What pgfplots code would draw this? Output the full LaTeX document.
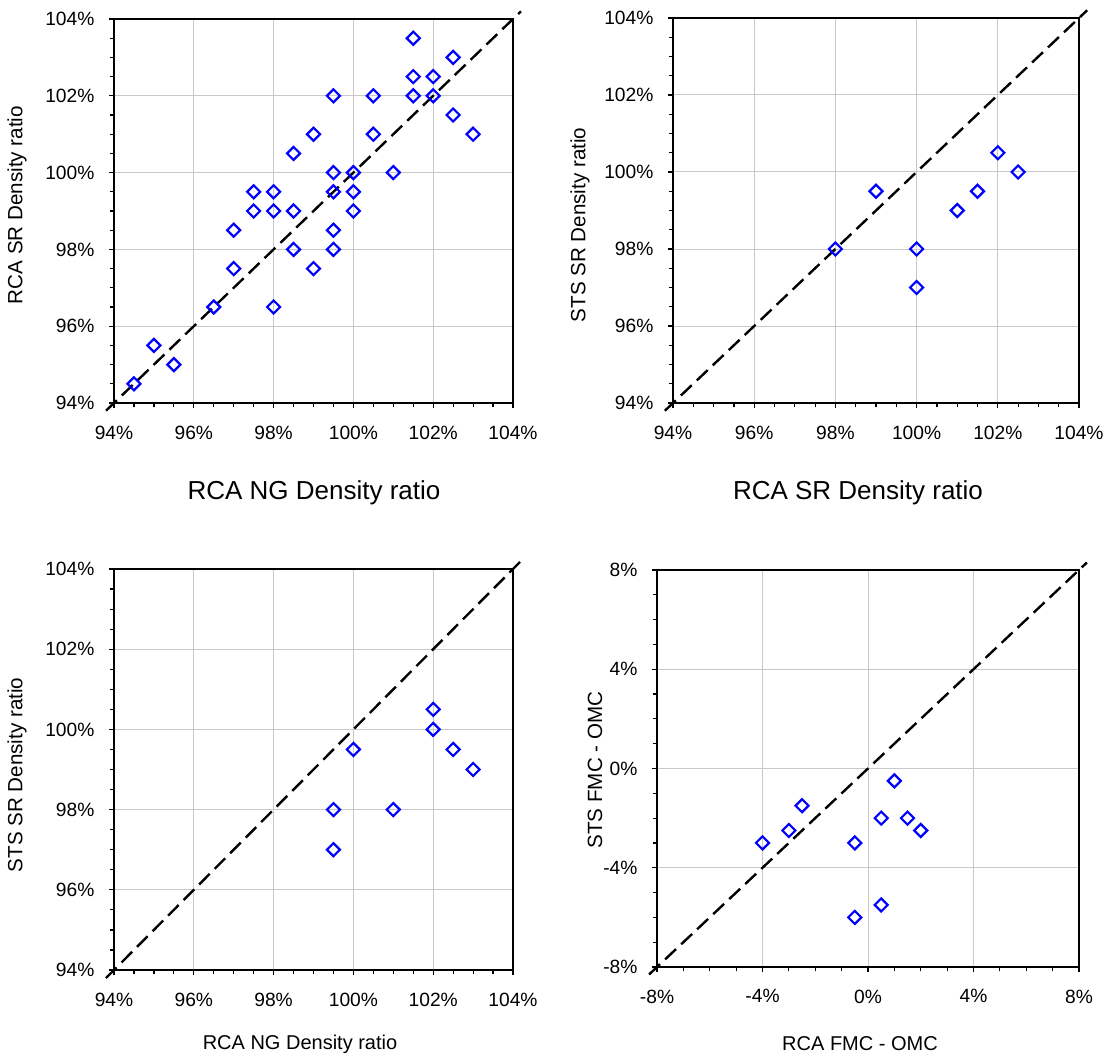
\documentclass[border=0pt]{standalone}
\usepackage{fontspec}
\setmainfont{Liberation Sans}
\usepackage{pgfplots}
\pgfplotsset{compat=1.18}
\definecolor{gridgray}{RGB}{200,200,200}
\begin{document}
\begin{tikzpicture}
\useasboundingbox (0pt,0pt) rectangle (556pt,528.5pt);
\pgfplotsset{
  panel/.style={
    scale only axis, anchor=south west,
    axis line style={line width=0.6pt},
    grid=major, major grid style={draw=gridgray, line width=0.5pt},
    tick align=outside, xtick pos=bottom, ytick pos=left,
    major tick length=2.6pt, minor tick length=2.2pt,
    every tick/.style={black, line width=0.6pt},
    minor tick num=3,
    ticklabel style={font=\fontsize{9.6}{11}\selectfont},
    xticklabel style={anchor=north, inner sep=0pt, yshift=-8.5pt},
    yticklabel style={anchor=east, inner sep=0pt, xshift=-7pt},
    clip=false,
  },
  dens/.style={
    xmin=94, xmax=104, ymin=94, ymax=104,
    xtick={94,96,...,104}, ytick={94,96,...,104},
    xticklabels={94\%,96\%,98\%,100\%,102\%,104\%},
    yticklabels={94\%,96\%,98\%,100\%,102\%,104\%},
  },
  pts/.style={only marks, mark=square, mark size=2.3pt,
    mark options={rotate=45, line width=1.1pt, draw=blue, fill=white}},
  diag/.style={black, line width=1.2pt, dash pattern=on 7.5pt off 3.5pt},
}
% Panel 1
\begin{axis}[panel, dens, at={(57pt,327pt)}, width=199.5pt, height=192pt]
\addplot[diag] coordinates {(93.8,93.8) (104.2,104.2)};
\addplot[pts] coordinates {
(101.5,103.5) (102.5,103) (101.5,102.5) (102,102.5) (99.5,102) (100.5,102)
(101.5,102) (102,102) (102.5,101.5) (99,101) (100.5,101) (103,101)
(98.5,100.5) (99.5,100) (100,100) (101,100) (97.5,99.5) (98,99.5)
(99.5,99.5) (100,99.5) (97.5,99) (98,99) (98.5,99) (100,99) (97,98.5)
(99.5,98.5) (98.5,98) (99.5,98) (97,97.5) (99,97.5) (96.5,96.5) (98,96.5)
(95,95.5) (95.5,95) (94.5,94.5)};
\draw[line width=1.2pt] (rel axis cs:0,1) -- (rel axis cs:0,0) -- (rel axis cs:1,0);
\end{axis}
% Panel 2
\begin{axis}[panel, dens, at={(336.5pt,327pt)}, width=203pt, height=192.5pt]
\addplot[diag] coordinates {(93.8,93.8) (104.2,104.2)};
\addplot[pts] coordinates {
(102,100.5) (102.5,100) (101.5,99.5) (99,99.5) (101,99) (98,98) (100,98) (100,97)};
\draw[line width=1.2pt] (rel axis cs:0,1) -- (rel axis cs:0,0) -- (rel axis cs:1,0);
\end{axis}
% Panel 3
\begin{axis}[panel, dens, at={(57pt,43.5pt)}, width=199.5pt, height=200.5pt]
\addplot[diag] coordinates {(93.8,93.8) (104.2,104.2)};
\addplot[pts] coordinates {
(102,100.5) (102,100) (100,99.5) (102.5,99.5) (103,99) (99.5,98) (101,98) (99.5,97)};
\draw[line width=1.2pt] (rel axis cs:0,1) -- (rel axis cs:0,0) -- (rel axis cs:1,0);
\end{axis}
% Panel 4
\begin{axis}[panel, at={(328.5pt,45pt)}, width=211pt, height=198.5pt,
  xmin=-8, xmax=8, ymin=-8, ymax=8,
  xtick={-8,-4,...,8}, ytick={-8,-4,...,8},
  xticklabels={-8\%,-4\%,0\%,4\%,8\%},
  yticklabels={-8\%,-4\%,0\%,4\%,8\%}]
\addplot[diag] coordinates {(-8.3,-8.3) (8.3,8.3)};
\addplot[pts] coordinates {
(1,-0.5) (-2.5,-1.5) (-3,-2.5) (-4,-3) (-0.5,-3) (0.5,-2) (1.5,-2) (2,-2.5)
(-0.5,-6) (0.5,-5.5)};
\draw[line width=1.2pt] (rel axis cs:0,1) -- (rel axis cs:0,0) -- (rel axis cs:1,0);
\end{axis}
% Axis titles
\node[font=\fontsize{13}{15}\selectfont] at (157pt,282pt) {RCA NG Density ratio};
\node[font=\fontsize{13}{15}\selectfont] at (429pt,282pt) {RCA SR Density ratio};
\node[font=\fontsize{10}{12}\selectfont] at (150pt,6.5pt) {RCA NG Density ratio};
\node[font=\fontsize{10}{12}\selectfont] at (430pt,6.5pt) {RCA FMC - OMC};
\node[font=\fontsize{10.3}{12}\selectfont, rotate=90] at (8.5pt,426pt) {RCA SR Density ratio};
\node[font=\fontsize{10.3}{12}\selectfont, rotate=90] at (290pt,416pt) {STS SR Density ratio};
\node[font=\fontsize{10.3}{12}\selectfont, rotate=90] at (8.5pt,141pt) {STS SR Density ratio};
\node[font=\fontsize{10.3}{12}\selectfont, rotate=90] at (297.5pt,143.5pt) {STS FMC - OMC};
\end{tikzpicture}
\end{document}
